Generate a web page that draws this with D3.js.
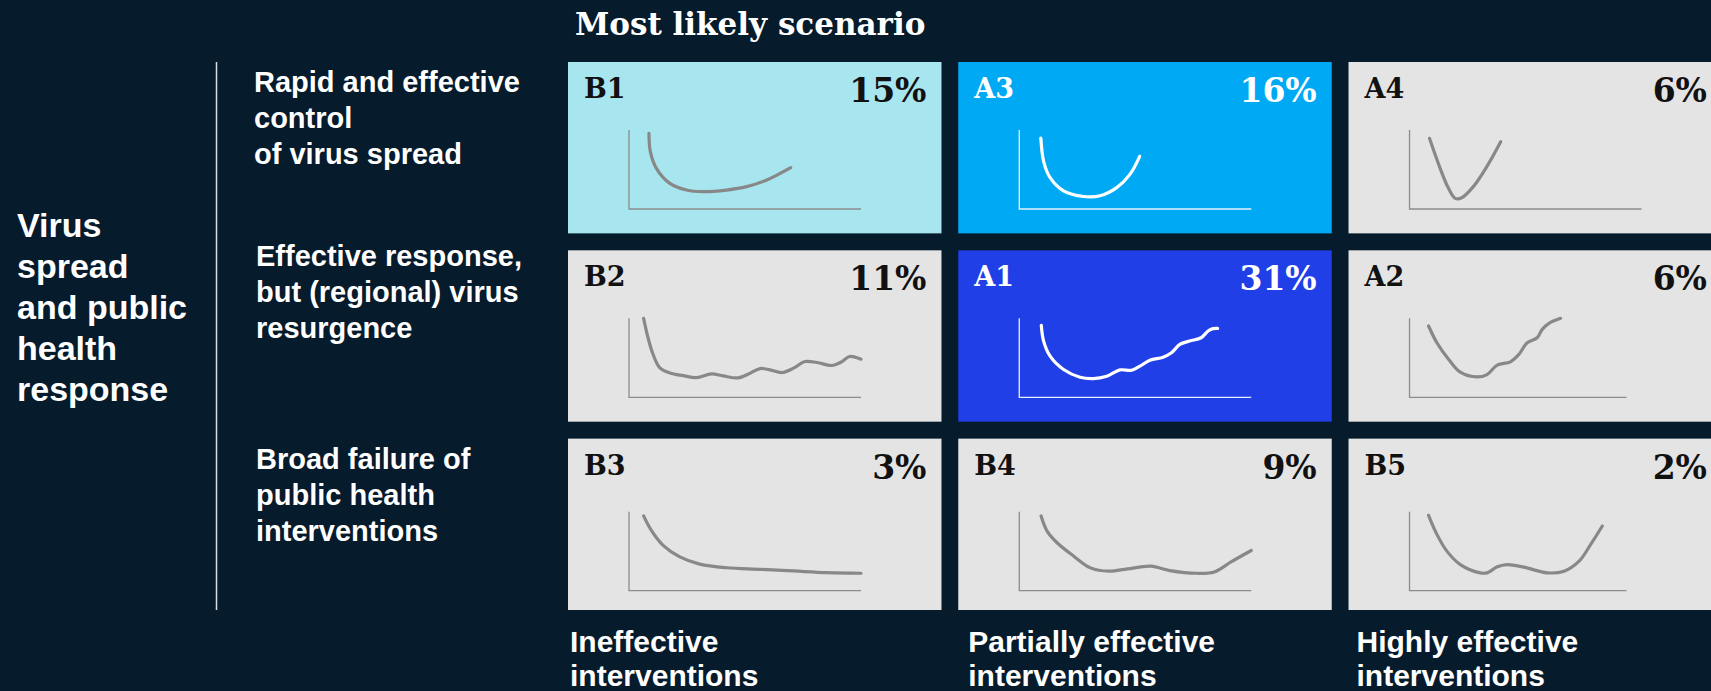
<!DOCTYPE html>
<html>
<head>
<meta charset="utf-8">
<script src="https://cdn.jsdelivr.net/npm/d3@7"></script>
<style>
  html, body { margin: 0; padding: 0; background: #061b2c; }
  svg { display: block; }
</style>
</head>
<body>
<svg id="chart" width="1711" height="691"></svg>
<script>
// ---- data ----
const title = "Most likely scenario";
const axisLabel = ["Virus", "spread", "and public", "health", "response"];
const rowLabels = [
  ["Rapid and effective", "control", "of virus spread"],
  ["Effective response,", "but (regional) virus", "resurgence"],
  ["Broad failure of", "public health", "interventions"]
];
const columnLabels = [
  ["Ineffective", "interventions"],
  ["Partially effective", "interventions"],
  ["Highly effective", "interventions"]
];
const scenarioCodes = [
  ["B1", "A3", "A4"],
  ["B2", "A1", "A2"],
  ["B3", "B4", "B5"]
];
const probabilities = [
  [15, 16, 6],
  [11, 31, 6],
  [3, 9, 2]
];
// length of each sketch's time axis (share of the full axis)
const axisLength = [
  [100, 100, 100],
  [100, 100, 93.5],
  [100, 100, 93.5]
];

// illustrative case curves: [time, level] on a 0–100 frame
const curveB1 = [[8.6,95.8],[9.2,72.6],[11.8,51.5],[17.6,32.5],[24.8,24],[32,21.9],[42,24],[50.7,28.3],[59.4,36.7],[69.7,52.3]];
const curveA3 = [[9.3,89.6],[10.5,60.4],[13.3,39.6],[19.1,22.9],[27.7,15.8],[34.8,16.7],[42,27],[47.7,43.8],[51.9,66.7]];
const curveA4 = [[8.6,89.5],[13.2,51.5],[16.8,26.2],[19.7,13.5],[22.5,14.3],[27.5,28.3],[33.3,53.6],[39.3,85.2]];
const curveB2 = [[6.3,100],[8.2,75.4],[10.4,54.2],[13.3,37.3],[17.6,30.9],[23.3,27.5],[29.1,25],[35.6,29.7],[40.6,27.1],[47.1,24.6],[52.2,30.5],[56.5,36.4],[60.8,34.7],[65.9,31.4],[70.9,36.9],[75.9,45.3],[81,44.1],[87.5,40.3],[91.1,44.1],[95.1,51.7],[97.6,50.8],[100,48.3]];
const curveA1 = [[9.5,91.1],[10.5,71.2],[13.3,52.1],[19.1,35.2],[26.2,25.4],[31.9,23.7],[37.7,26.7],[43.4,34.7],[48.4,34.3],[52,39.4],[56.3,47],[62,50.8],[65.6,56.4],[69.2,66.9],[73.4,71.2],[78.4,75.4],[81.4,83.9],[83.5,86.9],[85.5,87.3]];
const curveA2 = [[8.2,90.3],[11.8,69.1],[16.9,47.9],[21.9,31.8],[29.1,25.8],[33.4,28.8],[37.8,40.7],[43.5,44.9],[47.1,54.2],[50.7,69.1],[55,75.4],[57.2,86],[60.1,93.6],[65.1,100]];
const curveB3 = [[6.3,94.6],[9.7,75.9],[14.7,57.3],[21.9,42.7],[30.5,33.6],[42.1,29],[56.5,27],[70.9,24.9],[85.3,22.8],[100,22]];
const curveB4 = [[9.4,94.5],[12,75.4],[16.3,60.6],[23.5,43.6],[30.7,28.8],[38.7,24.6],[46.6,27.5],[56.7,30.9],[64.9,25.4],[76.5,22],[84.1,23.7],[91.3,36.4],[100,50.8]];
const curveB5 = [[8.2,95.3],[11.8,71.2],[16.1,50],[21.9,33],[30.5,22.5],[33.4,22.5],[37.8,30.1],[42.1,33],[49.3,29.7],[59.4,22.5],[66.6,24.6],[73.1,37.3],[78.1,58.5],[83.1,81.8]];
const curves = { B1: curveB1, A3: curveA3, A4: curveA4, B2: curveB2, A1: curveA1, A2: curveA2, B3: curveB3, B4: curveB4, B5: curveB5 };

// ---- styling ----
const panelFill = { B1: "#a8e6ef", A3: "#00a9f3", A1: "#213fe7" };
const darkPanels = new Set(["A3", "A1"]);
const sansFont = "'Liberation Sans', Arial, sans-serif";
const serifFont = "'DejaVu Serif', Georgia, serif";

const svg = d3.select("#chart");

// grid of scenario panels
const colScale = d3.scaleBand().domain([0, 1, 2]).range([568, 1722]).paddingInner(0.043);
const rowScale = d3.scaleBand().domain([0, 1, 2]).range([62, 610]).paddingInner(0.09);
const sketchTop = [68, 68, 73];
const sketchLeft = 61, sketchW = 232, sketchH = 79;

// title
svg.append("text")
  .attr("x", 575).attr("y", 35)
  .attr("font-family", serifFont).attr("font-weight", "bold").attr("font-size", 31)
  .attr("fill", "#ffffff")
  .text(title);

// left axis label
svg.append("text")
  .attr("font-family", sansFont).attr("font-weight", "bold").attr("font-size", 34)
  .attr("fill", "#ffffff")
  .selectAll("tspan").data(axisLabel).join("tspan")
  .attr("x", 17).attr("y", (d, i) => 237 + i * 41)
  .text(d => d);

// divider
svg.append("line")
  .attr("x1", 216.5).attr("x2", 216.5).attr("y1", 62).attr("y2", 610)
  .attr("stroke", "#d8dde2").attr("stroke-width", 1.5);

// row labels
const rowLabelTop = [30, 16, 30];
rowLabels.forEach((lines, r) => {
  svg.append("text")
    .attr("font-family", sansFont).attr("font-weight", "bold").attr("font-size", 29)
    .attr("fill", "#ffffff")
    .selectAll("tspan").data(lines).join("tspan")
    .attr("x", r === 0 ? 254 : 256)
    .attr("y", (d, i) => rowScale(r) + rowLabelTop[r] + i * 36)
    .text(d => d);
});

// column labels
const colLabelShift = [2, 10, 8];
columnLabels.forEach((lines, c) => {
  svg.append("text")
    .attr("font-family", sansFont).attr("font-weight", "bold").attr("font-size", 30)
    .attr("fill", "#ffffff")
    .selectAll("tspan").data(lines).join("tspan")
    .attr("x", colScale(c) + colLabelShift[c])
    .attr("y", (d, i) => 652 + i * 34)
    .text(d => d);
});

// panels
const line = d3.line().curve(d3.curveCatmullRom.alpha(0.5));
scenarioCodes.forEach((row, r) => {
  row.forEach((code, c) => {
    const x0 = colScale(c), y0 = rowScale(r);
    const w = Math.min(colScale.bandwidth(), 1711 - x0), h = rowScale.bandwidth();
    const dark = darkPanels.has(code);
    const g = svg.append("g").attr("transform", `translate(${x0},${y0})`);
    g.append("rect").attr("width", w).attr("height", h)
      .attr("fill", panelFill[code] || "#e4e4e4");

    const ink = dark ? "#ffffff" : "#111111";
    g.append("text")
      .attr("x", 16).attr("y", 36)
      .attr("font-family", serifFont).attr("font-weight", "bold").attr("font-size", 27)
      .attr("fill", ink).text(code);
    g.append("text")
      .attr("x", colScale.bandwidth() - 15).attr("y", 40)
      .attr("text-anchor", "end")
      .attr("font-family", serifFont).attr("font-weight", "bold").attr("font-size", 33)
      .attr("fill", ink).text(probabilities[r][c] + "%");

    // sketch axes
    const sx = d3.scaleLinear().domain([0, 100]).range([0, sketchW]);
    const sy = d3.scaleLinear().domain([0, 100]).range([sketchH, 0]);
    const sg = g.append("g").attr("transform", `translate(${sketchLeft},${sketchTop[r]})`);
    const axisColor = dark ? "#e6f0ff" : "#8c8c8c";
    sg.append("path")
      .attr("d", `M${sx(0)},${sy(100)}V${sy(0)}H${sx(axisLength[r][c])}`)
      .attr("fill", "none").attr("stroke", axisColor).attr("stroke-width", 1.3);

    sg.append("path")
      .attr("d", line(curves[code].map(p => [sx(p[0]), sy(p[1])])))
      .attr("fill", "none")
      .attr("stroke", dark ? "#ffffff" : "#888888")
      .attr("stroke-width", 3.2)
      .attr("stroke-linecap", "round")
      .attr("stroke-linejoin", "round");
  });
});
</script>
</body>
</html>
